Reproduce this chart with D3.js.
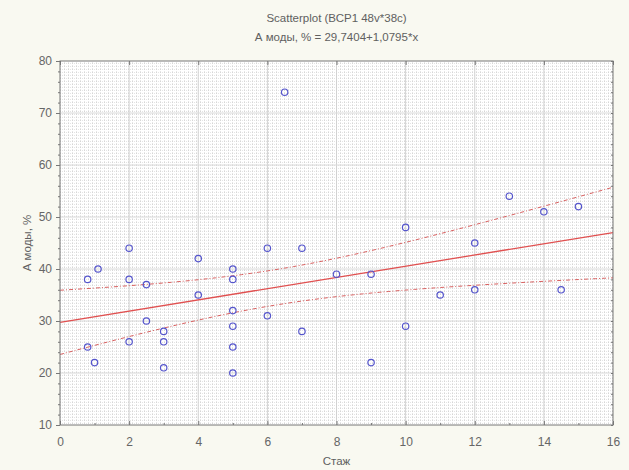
<!DOCTYPE html>
<html>
<head>
<meta charset="utf-8">
<script src="https://cdn.jsdelivr.net/npm/d3@7"></script>
<style>
  html, body { margin: 0; padding: 0; background: #f9f9f1; }
  svg { display: block; font-family: "Liberation Sans", Arial, sans-serif; }
</style>
</head>
<body>
<svg id="chart" width="629" height="470"></svg>
<script>
// Data
const stazh  = [2, 1.1, 0.8, 2, 2.5, 4, 5, 5, 4, 5, 2.5, 3, 5, 2, 3, 0.8, 5, 1, 3, 5,
                6.5, 10, 6, 7, 8, 9, 11, 6, 7, 10, 9, 13, 14, 15, 12, 12, 14.5];
const amody  = [44, 40, 38, 38, 37, 42, 40, 38, 35, 32, 30, 28, 29, 26, 26, 25, 25, 22, 21, 20,
                74, 48, 44, 44, 39, 39, 35, 31, 28, 29, 22, 54, 51, 52, 45, 36, 36];
const xTicks = [0, 2, 4, 6, 8, 10, 12, 14, 16];
const yTicks = [10, 20, 30, 40, 50, 60, 70, 80];
const fitA = 29.7404, fitB = 1.0795;

const margin = {left: 60, right: 16, top: 61, bottom: 45};
const W = 629, H = 470;
const svg = d3.select('#chart');

const x = d3.scaleLinear().domain([0, 16]).range([margin.left, W - margin.right]);
const y = d3.scaleLinear().domain([10, 80]).range([H - margin.bottom, margin.top]);

// Fine dotted grid texture of the plot area
const defs = svg.append('defs');
const pat = defs.append('pattern')
  .attr('id', 'grid').attr('patternUnits', 'userSpaceOnUse')
  .attr('width', 4).attr('height', 3);
pat.append('rect').attr('width', 4).attr('height', 3).attr('fill', '#ffffff');
pat.append('rect').attr('width', 1).attr('height', 1).attr('fill', '#d6d6d6');
pat.append('rect').attr('x', 2).attr('width', 1).attr('height', 1).attr('fill', '#e4e4e4');
pat.append('rect').attr('y', 2).attr('width', 1).attr('height', 1).attr('fill', '#e6e6e6');

svg.append('rect')
  .attr('x', x(0)).attr('y', y(80))
  .attr('width', x(16) - x(0)).attr('height', y(10) - y(80))
  .attr('fill', 'url(#grid)');

// major grid lines
svg.append('g').selectAll('line').data(xTicks.slice(1, -1)).join('line')
  .attr('x1', d => x(d)).attr('x2', d => x(d))
  .attr('y1', y(80)).attr('y2', y(10))
  .attr('stroke', '#d2d2d2').attr('stroke-width', 1);
svg.append('g').selectAll('line').data(yTicks.slice(1, -1)).join('line')
  .attr('y1', d => y(d)).attr('y2', d => y(d))
  .attr('x1', x(0)).attr('x2', x(16))
  .attr('stroke', '#dadada').attr('stroke-width', 1);

// regression + 95% confidence bands computed from the points
const n = stazh.length;
const xbar = d3.mean(stazh);
const sxx = d3.sum(stazh, v => (v - xbar) ** 2);
const sse = d3.sum(stazh, (v, i) => (amody[i] - (fitA + fitB * v)) ** 2);
const s = Math.sqrt(sse / (n - 2));
const tval = 2.03;
const xs = d3.range(0, 16.01, 0.25);
const fit = v => fitA + fitB * v;
const half = v => tval * s * Math.sqrt(1 / n + (v - xbar) ** 2 / sxx);

const line = d3.line().x(d => x(d[0])).y(d => y(d[1]));
const plot = svg.append('g');
[1, -1].forEach(sign => {
  plot.append('path').datum(xs.map(v => [v, fit(v) + sign * half(v)]))
    .attr('d', line).attr('fill', 'none')
    .attr('stroke', '#d86060').attr('stroke-width', 1).attr('stroke-dasharray', '4,2,1,2');
});
plot.append('path').datum([[0, fit(0)], [16, fit(16)]])
  .attr('d', line).attr('fill', 'none')
  .attr('stroke', '#e05050').attr('stroke-width', 1.3);

// points
plot.selectAll('circle').data(stazh).join('circle')
  .attr('cx', d => x(d)).attr('cy', (d, i) => y(amody[i]))
  .attr('r', 3.2).attr('fill', 'none')
  .attr('stroke', '#5555cc').attr('stroke-width', 1.2);

// frame and axes
svg.append('rect')
  .attr('x', x(0)).attr('y', y(80))
  .attr('width', x(16) - x(0)).attr('height', y(10) - y(80))
  .attr('fill', 'none').attr('stroke', '#777').attr('stroke-width', 1);

const axisStyle = g => {
  g.select('.domain').remove();
  g.selectAll('.tick line').attr('stroke', '#777');
  g.selectAll('.tick text').attr('fill', '#666').style('font-size', '12px');
};

svg.append('g').attr('transform', `translate(0,${y(10)})`)
  .call(d3.axisBottom(x).tickValues(xTicks).tickSize(-4).tickPadding(12).tickFormat(d3.format('d')))
  .call(axisStyle);
svg.append('g').attr('transform', `translate(0,${y(10)})`)
  .call(d3.axisBottom(x).tickValues(d3.range(1, 16, 2)).tickSize(-2).tickFormat(''))
  .call(axisStyle);
svg.append('g').attr('transform', `translate(0,${y(80)})`)
  .call(d3.axisTop(x).tickValues(xTicks).tickSize(-4).tickFormat(''))
  .call(axisStyle);
svg.append('g').attr('transform', `translate(${x(0)},0)`)
  .call(d3.axisLeft(y).tickValues(yTicks).tickSize(4).tickPadding(4))
  .call(axisStyle);
svg.append('g').attr('transform', `translate(${x(0)},0)`)
  .call(d3.axisLeft(y).tickValues(d3.range(12, 80, 2)).tickSize(2).tickFormat(''))
  .call(axisStyle);
svg.append('g').attr('transform', `translate(${x(16)},0)`)
  .call(d3.axisRight(y).tickValues(d3.range(10, 81, 2)).tickSize(-2).tickFormat(''))
  .call(axisStyle);

// titles
const cx = (x(0) + x(16)) / 2;
const title = (tx, ty, t) => svg.append('text').attr('x', tx).attr('y', ty)
  .attr('text-anchor', 'middle').attr('fill', '#606060')
  .style('font-size', '11.5px').text(t);
title(cx, 22, 'Scatterplot (ВСР1 48v*38c)');
title(cx, 41, 'А моды, % = 29,7404+1,0795*x');
title(cx, 465, 'Стаж');
svg.append('text')
  .attr('transform', `translate(31,${(y(10) + y(80)) / 2}) rotate(-90)`)
  .attr('text-anchor', 'middle')
  .attr('fill', '#606060').style('font-size', '11.5px').text('А моды, %');
</script>
</body>
</html>
